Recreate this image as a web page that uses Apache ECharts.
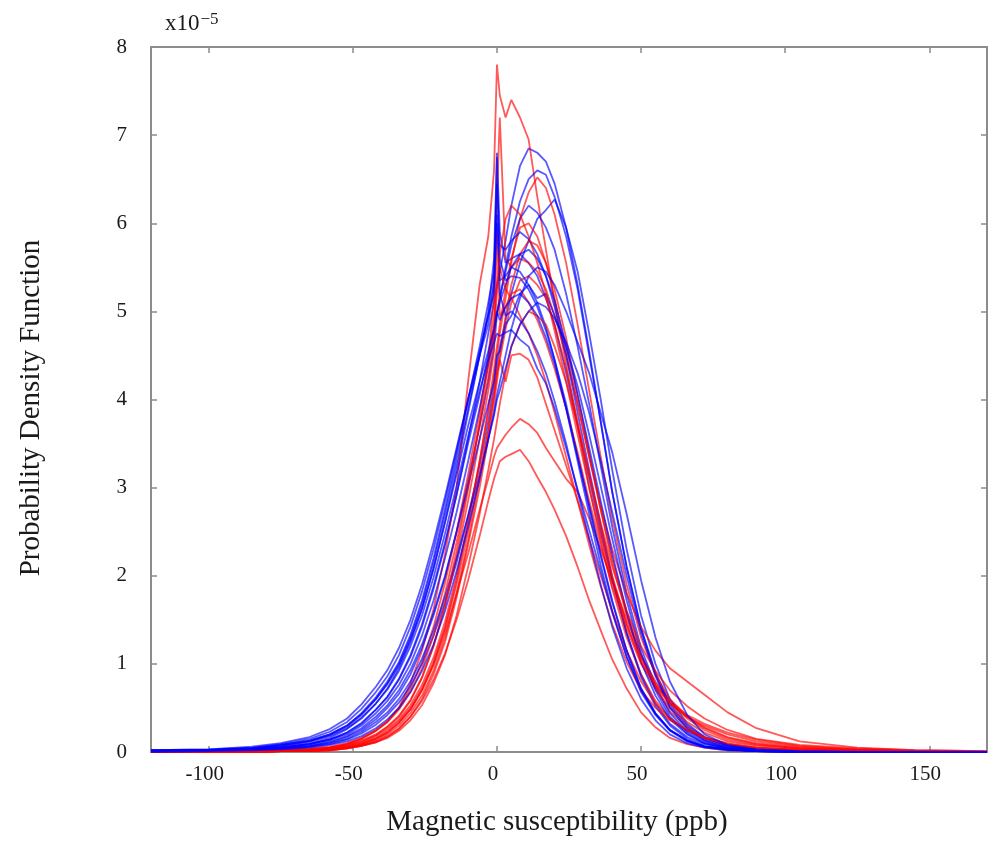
<!DOCTYPE html>
<html>
<head>
<meta charset="utf-8">
<script src="https://cdn.jsdelivr.net/npm/echarts@6/dist/echarts.min.js"></script>
<style>html,body{margin:0;padding:0;background:#fff}#c{width:990px;height:843px}</style>
</head>
<body>
<div id="c"></div>
<script>
// x positions (ppb) shared by all curves
const xValues = [-120,-100,-85,-75,-65, -58,-52,-47,-42,-38, -34,-30,-26,-22,-18, -14,-10,-6,-3,-1, 0,1,3,5,8, 11,14,17,20,24, 28,32,36,40,45, 50,55,60,66,72, 80,90,105,125,145, 170];
const xTicks = [-100,-50,0,50,100,150];
const yTicks = [0,1,2,3,4,5,6,7,8];

// Red group curves (x10^-5)
const red01 = [0,0,0.01,0.02,0.03, 0.05,0.09,0.15,0.24,0.34, 0.5,0.78,1.15,1.62,2.25, 3.0,4.2,5.3,5.85,6.6, 7.8,7.45,7.2,7.4,7.2, 6.95,6.3,5.7,5.1,4.4, 3.7,3.0,2.4,1.85,1.3, 0.88,0.58,0.38,0.24,0.15, 0.08,0.04,0.02,0.01,0, 0];
const red02 = [0,0,0.01,0.02,0.04, 0.06,0.1,0.16,0.25,0.35, 0.5,0.72,1.02,1.42,1.92, 2.5,3.15,3.85,4.45,5.2, 6.3,7.2,5.6,5.5,5.6, 5.55,5.45,5.25,4.95,4.5, 3.95,3.35,2.75,2.2,1.6, 1.1,0.72,0.46,0.28,0.17, 0.09,0.05,0.02,0.01,0, 0];
const red03 = [0,0,0.01,0.01,0.02, 0.04,0.07,0.11,0.18,0.26, 0.37,0.53,0.76,1.07,1.48, 2.0,2.62,3.3,3.85,4.25, 4.5,4.75,5.15,5.55,6.05, 6.35,6.52,6.4,6.1,5.55, 4.85,4.1,3.35,2.65,1.9, 1.3,0.88,0.6,0.4,0.27, 0.16,0.09,0.04,0.02,0.01, 0];
const red04 = [0,0,0,0.01,0.02, 0.03,0.06,0.1,0.16,0.24, 0.35,0.5,0.72,1.02,1.42, 1.95,2.6,3.3,3.9,4.35, 4.6,4.85,5.25,5.6,5.95, 6.0,5.85,5.55,5.15,4.55, 3.95,3.35,2.8,2.3,1.8, 1.42,1.15,0.95,0.8,0.65, 0.45,0.27,0.12,0.05,0.02, 0.01];
const red05 = [0,0,0,0.01,0.01, 0.03,0.05,0.08,0.13,0.2, 0.3,0.44,0.64,0.92,1.3, 1.8,2.4,3.1,3.65,4.05, 4.3,4.5,4.95,5.3,5.65, 5.8,5.75,5.55,5.25,4.7, 4.05,3.4,2.75,2.15,1.55, 1.08,0.78,0.56,0.4,0.28, 0.17,0.1,0.05,0.02,0.01, 0];
const red06 = [0,0,0.01,0.02,0.03, 0.05,0.08,0.13,0.2,0.29, 0.41,0.59,0.85,1.2,1.65, 2.2,2.85,3.55,4.1,4.55, 5.9,4.95,5.05,5.2,5.25, 5.1,4.9,4.65,4.35,3.9, 3.4,2.85,2.35,1.88,1.4, 1.0,0.72,0.5,0.34,0.22, 0.12,0.07,0.03,0.01,0, 0];
const red07 = [0,0,0,0.01,0.01, 0.02,0.04,0.07,0.11,0.17, 0.26,0.4,0.6,0.88,1.25, 1.75,2.35,3.0,3.55,3.95, 4.2,4.45,4.8,5.1,5.35, 5.4,5.3,5.15,4.85,4.35, 3.75,3.15,2.55,2.0,1.45, 1.02,0.75,0.55,0.4,0.3, 0.2,0.12,0.06,0.03,0.01, 0];
const red08 = [0,0,0.01,0.02,0.03, 0.05,0.09,0.15,0.24,0.34, 0.48,0.68,0.95,1.32,1.8, 2.38,3.02,3.7,4.25,4.75, 5.2,5.5,5.25,5.15,4.95, 4.75,4.5,4.2,3.85,3.35, 2.85,2.35,1.88,1.45,1.02, 0.7,0.5,0.36,0.25,0.17, 0.1,0.05,0.02,0.01,0, 0];
const red09 = [0,0,0,0.01,0.01, 0.02,0.04,0.07,0.11,0.16, 0.24,0.36,0.53,0.78,1.1, 1.55,2.1,2.7,3.2,3.55, 3.75,3.95,4.3,4.6,4.85, 5.0,4.95,4.85,4.6,4.2, 3.7,3.15,2.6,2.1,1.6, 1.2,0.92,0.7,0.52,0.38, 0.25,0.15,0.08,0.04,0.02, 0.01];
const red10 = [0,0,0,0.01,0.02, 0.03,0.05,0.09,0.15,0.22, 0.33,0.48,0.7,1.0,1.4, 1.9,2.5,3.15,3.65,4.05, 4.3,4.45,4.2,4.5,4.52, 4.45,4.25,3.95,3.65,3.25, 2.85,2.42,2.0,1.6,1.15, 0.8,0.55,0.38,0.25,0.16, 0.09,0.05,0.02,0.01,0, 0];
const red11 = [0,0,0.01,0.01,0.02, 0.04,0.07,0.12,0.19,0.28, 0.4,0.58,0.84,1.2,1.68, 2.28,2.98,3.75,4.4,4.95, 5.3,5.65,6.05,6.2,6.1, 5.85,5.55,5.2,4.78,4.2, 3.6,3.0,2.45,1.95,1.45, 1.05,0.76,0.55,0.38,0.25, 0.14,0.08,0.04,0.02,0.01, 0];
const red12 = [0,0,0,0.01,0.02, 0.03,0.05,0.09,0.15,0.22, 0.33,0.48,0.7,0.98,1.35, 1.8,2.25,2.75,3.1,3.35, 3.45,3.5,3.6,3.68,3.78, 3.72,3.62,3.45,3.3,3.1, 2.95,2.65,2.3,1.95,1.5, 1.1,0.8,0.58,0.42,0.32, 0.22,0.14,0.07,0.03,0.01, 0];
const red13 = [0,0,0,0.01,0.01, 0.02,0.04,0.07,0.12,0.18, 0.27,0.4,0.58,0.82,1.12, 1.5,1.95,2.45,2.85,3.1, 3.2,3.3,3.35,3.38,3.43, 3.3,3.12,2.95,2.75,2.45, 2.1,1.72,1.38,1.05,0.72, 0.45,0.28,0.16,0.09,0.05, 0.02,0.01,0,0,0, 0];

// Blue group curves (x10^-5)
const blue01 = [0.01,0.02,0.03,0.05,0.09, 0.14,0.22,0.32,0.48,0.62, 0.82,1.08,1.42,1.85,2.35, 2.92,3.55,4.2,4.75,5.1, 5.3,5.45,5.8,6.2,6.65, 6.85,6.8,6.7,6.45,5.95, 5.3,4.55,3.75,2.95,2.1, 1.4,0.88,0.52,0.28,0.14, 0.06,0.03,0.01,0.01,0, 0];
const blue02 = [0.01,0.02,0.03,0.06,0.1, 0.16,0.26,0.38,0.55,0.72, 0.95,1.25,1.62,2.08,2.62, 3.2,3.85,4.5,5.0,5.6, 6.8,5.9,5.55,5.6,5.65, 5.55,5.4,5.15,4.85,4.3, 3.7,3.1,2.5,1.95,1.35, 0.88,0.55,0.32,0.17,0.09, 0.04,0.02,0.01,0,0, 0];
const blue03 = [0.01,0.01,0.02,0.04,0.07, 0.11,0.17,0.25,0.37,0.5, 0.66,0.88,1.18,1.55,1.98, 2.5,3.08,3.7,4.2,4.6, 4.95,5.15,5.5,5.85,6.25, 6.5,6.6,6.55,6.3,5.85, 5.25,4.5,3.75,2.95,2.1, 1.4,0.9,0.55,0.3,0.16, 0.07,0.03,0.01,0,0, 0];
const blue04 = [0.01,0.01,0.02,0.03,0.06, 0.09,0.14,0.21,0.31,0.42, 0.56,0.75,1.0,1.32,1.7, 2.15,2.68,3.25,3.75,4.15, 4.4,4.6,4.9,5.2,5.55, 5.8,6.05,6.15,6.27,5.95, 5.45,4.75,4.0,3.2,2.3, 1.55,1.0,0.6,0.32,0.17, 0.07,0.03,0.01,0,0, 0];
const blue05 = [0,0.01,0.03,0.05,0.09, 0.14,0.2,0.3,0.44,0.58, 0.76,1.0,1.32,1.72,2.2, 2.72,3.3,3.9,4.4,4.75, 5.0,5.15,5.45,5.75,6.05, 6.2,6.12,5.95,5.7,5.2, 4.6,3.95,3.25,2.55,1.8, 1.18,0.75,0.44,0.23,0.12, 0.05,0.02,0.01,0,0, 0];
const blue06 = [0.01,0.02,0.04,0.07,0.12, 0.19,0.29,0.42,0.6,0.78, 1.0,1.3,1.68,2.15,2.7, 3.28,3.9,4.5,4.95,5.35, 6.1,5.6,5.35,5.4,5.38, 5.25,5.05,4.78,4.45,3.95, 3.35,2.78,2.22,1.7,1.15, 0.72,0.44,0.25,0.13,0.06, 0.03,0.01,0,0,0, 0];
const blue07 = [0.02,0.02,0.04,0.08,0.13, 0.2,0.3,0.44,0.62,0.8, 1.02,1.33,1.72,2.2,2.76, 3.36,4.0,4.6,5.1,5.45, 6.45,5.75,5.7,5.8,5.9, 5.82,5.65,5.4,5.05,4.5, 3.85,3.2,2.58,1.98,1.35, 0.85,0.52,0.3,0.15,0.07, 0.03,0.01,0.01,0,0, 0];
const blue08 = [0.01,0.01,0.03,0.05,0.09, 0.14,0.22,0.33,0.48,0.63, 0.83,1.1,1.45,1.88,2.38, 2.92,3.5,4.05,4.5,4.8, 4.98,5.1,5.3,5.5,5.65, 5.7,5.6,5.4,5.12,4.62, 4.05,3.45,2.85,2.25,1.58, 1.02,0.64,0.37,0.2,0.1, 0.04,0.02,0.01,0,0, 0];
const blue09 = [0.02,0.03,0.05,0.09,0.15, 0.23,0.34,0.49,0.68,0.86, 1.1,1.42,1.82,2.3,2.85, 3.42,4.0,4.55,4.95,5.2, 6.0,5.35,5.4,5.5,5.45, 5.3,5.1,4.82,4.45,3.9, 3.3,2.7,2.12,1.6,1.08, 0.68,0.42,0.24,0.12,0.06, 0.03,0.01,0,0,0, 0];
const blue10 = [0.01,0.01,0.02,0.04,0.07, 0.12,0.18,0.27,0.4,0.53, 0.7,0.93,1.22,1.58,2.0, 2.5,3.02,3.55,3.95,4.2, 4.5,4.55,4.85,4.95,5.2, 5.3,5.15,5.2,4.95,4.6, 4.15,3.6,3.02,2.42,1.72, 1.12,0.7,0.4,0.21,0.1, 0.04,0.02,0.01,0,0, 0];
const blue11 = [0.01,0.01,0.02,0.04,0.06, 0.1,0.15,0.23,0.34,0.45, 0.6,0.8,1.06,1.38,1.76, 2.2,2.68,3.15,3.55,3.82, 4.0,4.1,4.35,4.6,4.85, 5.0,5.1,5.05,4.92,4.65, 4.3,3.85,3.3,2.72,2.0, 1.35,0.86,0.5,0.26,0.13, 0.05,0.02,0.01,0,0, 0];
const blue12 = [0.02,0.03,0.06,0.1,0.17, 0.26,0.38,0.54,0.74,0.93, 1.18,1.5,1.9,2.38,2.9, 3.45,4.0,4.5,4.85,5.3, 6.75,5.2,4.95,5.0,4.9, 4.75,4.55,4.3,3.98,3.5, 2.95,2.42,1.9,1.42,0.95, 0.6,0.36,0.2,0.1,0.05, 0.02,0.01,0,0,0, 0];
const blue13 = [0.01,0.02,0.04,0.07,0.12, 0.18,0.27,0.39,0.55,0.71, 0.92,1.2,1.55,1.98,2.48, 3.02,3.58,4.1,4.45,4.65, 4.75,4.72,4.76,4.79,4.68, 4.6,4.35,4.18,3.9,3.45, 2.98,2.52,2.05,1.58,1.08, 0.7,0.43,0.25,0.13,0.06, 0.03,0.01,0,0,0, 0];
const blue14 = [0,0.01,0.02,0.03,0.05, 0.08,0.12,0.18,0.27,0.37, 0.5,0.68,0.92,1.22,1.6, 2.05,2.55,3.1,3.55,3.85, 4.05,4.2,4.5,4.8,5.15, 5.4,5.5,5.45,5.3,5.0, 4.65,4.3,3.85,3.4,2.7, 1.95,1.3,0.8,0.42,0.2, 0.08,0.03,0.01,0,0, 0];
const blue15 = [0.02,0.02,0.04,0.08,0.13, 0.2,0.3,0.43,0.6,0.77, 0.98,1.27,1.63,2.08,2.6, 3.15,3.7,4.2,4.55,4.8, 5.0,4.9,5.05,5.15,5.2, 5.1,4.95,4.7,4.4,3.9, 3.35,2.8,2.25,1.72,1.15, 0.72,0.44,0.25,0.13,0.06, 0.03,0.01,0,0,0, 0];

const redCurves = [red12, red13, red01, red02, red03, red04, red05, red06, red07, red08, red09, red10, red11];
const blueCurves = [blue01, blue02, blue03, blue04, blue05, blue06, blue07, blue08, blue09, blue10, blue11, blue12, blue13, blue14, blue15];

const serif = "'Liberation Serif','Times New Roman','DejaVu Serif',serif";
const axisGray = '#8c8c8c';

function makeSeries(vals, color, name) {
  return {
    type: 'line', name: name, showSymbol: false, symbol: 'none', smooth: false,
    animation: false,
    data: xValues.map((x, i) => [x, vals[i]]),
    lineStyle: { color: color, width: 1.8, opacity: 0.65 },
    emphasis: { disabled: true }
  };
}

const series = [];
const n = Math.max(redCurves.length, blueCurves.length);
for (let i = 0; i < n; i++) {
  if (i < redCurves.length) series.push(makeSeries(redCurves[i], '#ff0000', 'red' + i));
  if (i < blueCurves.length) series.push(makeSeries(blueCurves[i], '#0000ff', 'blue' + i));
}

const chart = echarts.init(document.getElementById('c'), null, { renderer: 'canvas' });
chart.setOption({
  animation: false,
  backgroundColor: '#ffffff',
  grid: { left: 151, right: 3, top: 47, bottom: 91, containLabel: false },
  xAxis: [{
    type: 'value', position: 'bottom', min: -120, max: 170,
    axisLine: { show: true, onZero: false, lineStyle: { color: axisGray, width: 2 } },
    axisTick: { show: true, inside: true, length: 6, customValues: xTicks, lineStyle: { color: axisGray, width: 1.5 } },
    axisLabel: { show: true, customValues: xTicks, margin: 12, fontFamily: serif, fontSize: 21, color: '#1a1a1a', padding: [0, 8, 0, 0] },
    splitLine: { show: false }
  }, {
    type: 'value', position: 'top', min: -120, max: 170,
    axisLine: { show: true, onZero: false, lineStyle: { color: axisGray, width: 2 } },
    axisTick: { show: true, inside: true, length: 6, customValues: xTicks, lineStyle: { color: axisGray, width: 1.5 } },
    axisLabel: { show: false },
    splitLine: { show: false }
  }],
  yAxis: [{
    type: 'value', position: 'left', min: 0, max: 8, interval: 1,
    axisLine: { show: true, onZero: false, lineStyle: { color: axisGray, width: 2 } },
    axisTick: { show: true, inside: true, length: 6, lineStyle: { color: axisGray, width: 1.5 } },
    axisLabel: { show: true, margin: 24, fontFamily: serif, fontSize: 21, color: '#1a1a1a', padding: [0, 0, 6, 0] },
    splitLine: { show: false }
  }, {
    type: 'value', position: 'right', min: 0, max: 8, interval: 1,
    axisLine: { show: true, onZero: false, lineStyle: { color: axisGray, width: 2 } },
    axisTick: { show: true, inside: true, length: 6, lineStyle: { color: axisGray, width: 1.5 } },
    axisLabel: { show: false },
    splitLine: { show: false }
  }],
  graphic: [
    {
      type: 'text', x: 31, y: 408, rotation: Math.PI / 2,
      style: { text: 'Probability Density Function', font: "29px " + serif, fill: '#1a1a1a', align: 'center', verticalAlign: 'middle' }
    },
    {
      type: 'text', x: 557, y: 822,
      style: { text: 'Magnetic susceptibility (ppb)', font: "29px " + serif, fill: '#1a1a1a', align: 'center', verticalAlign: 'middle' }
    },
    {
      type: 'text', x: 165, y: 23,
      style: {
        text: '{a|x10}{b|−5}',
        align: 'left', verticalAlign: 'middle',
        rich: {
          a: { fontFamily: serif, fontSize: 23, fill: '#1a1a1a', color: '#1a1a1a', verticalAlign: 'bottom', lineHeight: 24 },
          b: { fontFamily: serif, fontSize: 17, fill: '#1a1a1a', color: '#1a1a1a', verticalAlign: 'top', lineHeight: 24, padding: [0, 0, 9, 1] }
        }
      }
    }
  ],
  series: series
});
</script>
</body>
</html>
